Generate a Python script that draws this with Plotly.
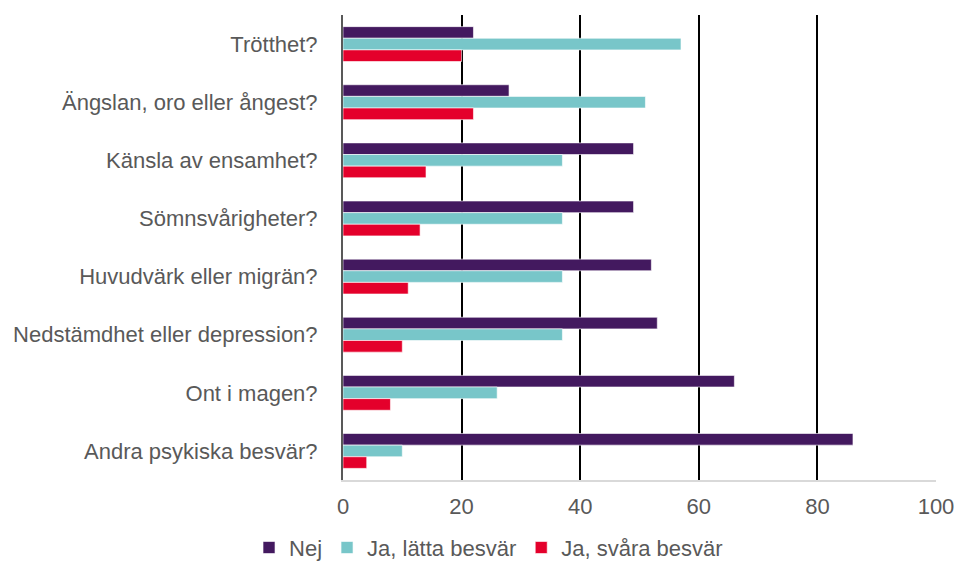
import plotly.graph_objects as go

categories = [
    "Trötthet?",
    "Ängslan, oro eller ångest?",
    "Känsla av ensamhet?",
    "Sömnsvårigheter?",
    "Huvudvärk eller migrän?",
    "Nedstämdhet eller depression?",
    "Ont i magen?",
    "Andra psykiska besvär?",
]
nej = [22, 28, 49, 49, 52, 53, 66, 86]
latta = [57, 51, 37, 37, 37, 37, 26, 10]
svara = [20, 22, 14, 13, 11, 10, 8, 4]
x_ticks = [0, 20, 40, 60, 80, 100]

series = [
    ("Nej", nej, "#43195F"),
    ("Ja, lätta besvär", latta, "#78C6C9"),
    ("Ja, svåra besvär", svara, "#E4002B"),
]

fig = go.Figure()
for name, vals, color in series:
    fig.add_trace(go.Bar(
        y=categories, x=vals, name=name, orientation="h",
        marker=dict(color=color, line=dict(color="rgba(255,255,255,0.6)", width=1)),
    ))

font = "Liberation Sans, Arial, sans-serif"
fig.update_layout(
    width=956, height=567,
    margin=dict(l=343, r=20, t=15, b=87, autoexpand=False),
    paper_bgcolor="white", plot_bgcolor="white",
    barmode="group", bargap=0.4, bargroupgap=0.0,
    font=dict(family=font, size=22, color="#595959"),
    xaxis=dict(
        range=[0, 100], tickvals=x_ticks, showgrid=True, gridcolor="#000000", gridwidth=1.5,
        zeroline=False, showline=True, linecolor="#D9D9D9", linewidth=1.5,
        ticks="", ticklabelstandoff=6, automargin=False,
    ),
    yaxis=dict(
        autorange="reversed", showgrid=False, showline=True, linecolor="#595959", linewidth=2,
        ticks="", ticklabelstandoff=19, automargin=False,
    ),
    legend=dict(
        orientation="h", xref="container", yref="container",
        x=0.511, xanchor="center", y=0.034, yanchor="middle",
        font=dict(size=22, color="#595959"), itemwidth=30, traceorder="normal",
    ),
)

fig.write_html("out.html")
